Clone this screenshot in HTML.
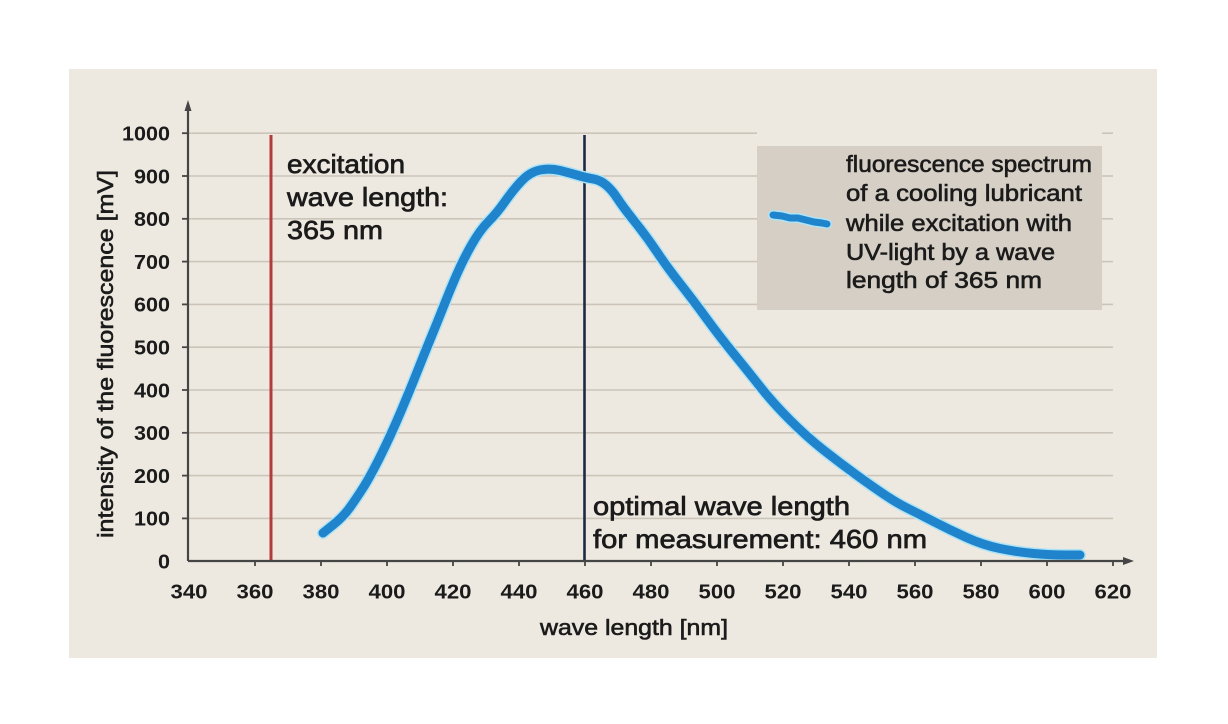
<!DOCTYPE html>
<html>
<head>
<meta charset="utf-8">
<style>
  html, body { margin:0; padding:0; background:#ffffff; }
  body { width:1228px; height:724px; overflow:hidden; }
  svg { display:block; }
  text { font-family: "Liberation Sans", "DejaVu Sans", sans-serif; fill:#1b1b1b; }
</style>
</head>
<body>
<svg width="1228" height="724" viewBox="0 0 1228 724" xmlns="http://www.w3.org/2000/svg">
  <!-- panel -->
  <rect x="69" y="69" width="1088" height="589" fill="#eee9e0"/>

  <!-- legend box -->
  <rect x="757" y="146" width="345" height="164" fill="#d6cfc6"/>

  <!-- gridlines -->
  <g stroke="#cbc4b9" stroke-width="1.6">
    <line x1="188" y1="133.2" x2="757" y2="133.2"/>
    <line x1="1102" y1="133.2" x2="1113" y2="133.2"/>
    <line x1="188" y1="176" x2="757" y2="176"/>
    <line x1="1102" y1="176" x2="1113" y2="176"/>
    <line x1="188" y1="218.8" x2="757" y2="218.8"/>
    <line x1="1102" y1="218.8" x2="1113" y2="218.8"/>
    <line x1="188" y1="261.6" x2="757" y2="261.6"/>
    <line x1="1102" y1="261.6" x2="1113" y2="261.6"/>
    <line x1="188" y1="304.4" x2="757" y2="304.4"/>
    <line x1="1102" y1="304.4" x2="1113" y2="304.4"/>
    <line x1="188" y1="347.2" x2="1113" y2="347.2"/>
    <line x1="188" y1="390" x2="1113" y2="390"/>
    <line x1="188" y1="432.8" x2="1113" y2="432.8"/>
    <line x1="188" y1="475.6" x2="1113" y2="475.6"/>
    <line x1="188" y1="518.4" x2="1113" y2="518.4"/>
  </g>

  <!-- vertical marker lines -->
  <line x1="271" y1="135" x2="271" y2="561" stroke="#b23b3b" stroke-width="3"/>
  <line x1="584.5" y1="135" x2="584.5" y2="561" stroke="#1d2a45" stroke-width="2.6"/>

  <!-- curve halo + curve -->
  <path id="c" fill="none" stroke="#aee3f6" stroke-width="12" stroke-linejoin="round" stroke-linecap="round"
    d="M323,533 L333,525 Q343,517 349.5,508 Q356,499 363,488 Q370,477 380,457 Q390,437 400,413.5 Q410,390 416.5,373.5 Q423,357 430,340 Q437,323 443.5,306.5 Q450,290 456.5,275 Q463,260 471.5,245 Q480,230 488.5,221.5 Q497,213 505,201.5 Q513,190 521.5,181 Q530,172 540,170 Q550,168 560,170.5 Q570,173 578.5,175.5 Q587,178 593.5,179 Q600,180 606,185 Q612,190 617.5,198.5 Q623,207 635,222 Q647,237 657,252 Q667,267 680,283.5 Q693,300 706.5,318.5 Q720,337 733.5,353.5 Q747,370 760,386.5 Q773,403 790,420 Q807,437 823.5,450 Q840,463 856.5,475 Q873,487 885,495 Q897,503 907,508 Q917,513 933.5,521.5 Q950,530 966.5,537.5 Q983,545 1000,548.5 Q1017,552 1033.5,553.5 Q1050,555 1065,555 L1080,555"/>
  <path fill="none" stroke="#1f84cc" stroke-width="9" stroke-linejoin="round" stroke-linecap="round"
    d="M323,533 L333,525 Q343,517 349.5,508 Q356,499 363,488 Q370,477 380,457 Q390,437 400,413.5 Q410,390 416.5,373.5 Q423,357 430,340 Q437,323 443.5,306.5 Q450,290 456.5,275 Q463,260 471.5,245 Q480,230 488.5,221.5 Q497,213 505,201.5 Q513,190 521.5,181 Q530,172 540,170 Q550,168 560,170.5 Q570,173 578.5,175.5 Q587,178 593.5,179 Q600,180 606,185 Q612,190 617.5,198.5 Q623,207 635,222 Q647,237 657,252 Q667,267 680,283.5 Q693,300 706.5,318.5 Q720,337 733.5,353.5 Q747,370 760,386.5 Q773,403 790,420 Q807,437 823.5,450 Q840,463 856.5,475 Q873,487 885,495 Q897,503 907,508 Q917,513 933.5,521.5 Q950,530 966.5,537.5 Q983,545 1000,548.5 Q1017,552 1033.5,553.5 Q1050,555 1065,555 L1080,555"/>

  <!-- axes -->
  <g stroke="#454545" stroke-width="2.2" fill="none">
    <line x1="188" y1="561" x2="188" y2="108"/>
    <line x1="188" y1="561" x2="1126" y2="561"/>
  </g>
  <polygon points="188,100 184.5,111 191.5,111" fill="#454545"/>
  <polygon points="1134,561 1123,557 1123,565" fill="#454545"/>

  <!-- y ticks -->
  <g stroke="#454545" stroke-width="1.8">
    <line x1="182" y1="133.2" x2="188" y2="133.2"/>
    <line x1="182" y1="176" x2="188" y2="176"/>
    <line x1="182" y1="218.8" x2="188" y2="218.8"/>
    <line x1="182" y1="261.6" x2="188" y2="261.6"/>
    <line x1="182" y1="304.4" x2="188" y2="304.4"/>
    <line x1="182" y1="347.2" x2="188" y2="347.2"/>
    <line x1="182" y1="390" x2="188" y2="390"/>
    <line x1="182" y1="432.8" x2="188" y2="432.8"/>
    <line x1="182" y1="475.6" x2="188" y2="475.6"/>
    <line x1="182" y1="518.4" x2="188" y2="518.4"/>
  </g>
  <!-- x ticks -->
  <g stroke="#454545" stroke-width="1.8">
    <line x1="255" y1="561" x2="255" y2="566"/>
    <line x1="321" y1="561" x2="321" y2="566"/>
    <line x1="387" y1="561" x2="387" y2="566"/>
    <line x1="453" y1="561" x2="453" y2="566"/>
    <line x1="519" y1="561" x2="519" y2="566"/>
    <line x1="585" y1="561" x2="585" y2="566"/>
    <line x1="651" y1="561" x2="651" y2="566"/>
    <line x1="717" y1="561" x2="717" y2="566"/>
    <line x1="783" y1="561" x2="783" y2="566"/>
    <line x1="849" y1="561" x2="849" y2="566"/>
    <line x1="915" y1="561" x2="915" y2="566"/>
    <line x1="981" y1="561" x2="981" y2="566"/>
    <line x1="1047" y1="561" x2="1047" y2="566"/>
    <line x1="1113" y1="561" x2="1113" y2="566"/>
  </g>

  <!-- y tick labels -->
  <g font-size="20" font-weight="bold" text-anchor="end">
    <text x="170" y="140.5" textLength="48" lengthAdjust="spacingAndGlyphs">1000</text>
    <text x="170" y="183.3" textLength="36" lengthAdjust="spacingAndGlyphs">900</text>
    <text x="170" y="226.1" textLength="36" lengthAdjust="spacingAndGlyphs">800</text>
    <text x="170" y="268.9" textLength="36" lengthAdjust="spacingAndGlyphs">700</text>
    <text x="170" y="311.7" textLength="36" lengthAdjust="spacingAndGlyphs">600</text>
    <text x="170" y="354.5" textLength="36" lengthAdjust="spacingAndGlyphs">500</text>
    <text x="170" y="397.3" textLength="36" lengthAdjust="spacingAndGlyphs">400</text>
    <text x="170" y="440.1" textLength="36" lengthAdjust="spacingAndGlyphs">300</text>
    <text x="170" y="482.9" textLength="36" lengthAdjust="spacingAndGlyphs">200</text>
    <text x="170" y="525.7" textLength="36" lengthAdjust="spacingAndGlyphs">100</text>
    <text x="170" y="568.5" textLength="12" lengthAdjust="spacingAndGlyphs">0</text>
  </g>

  <!-- x tick labels -->
  <g font-size="20" font-weight="bold" text-anchor="middle">
    <text x="189" y="598.5" textLength="37" lengthAdjust="spacingAndGlyphs">340</text>
    <text x="255" y="598.5" textLength="37" lengthAdjust="spacingAndGlyphs">360</text>
    <text x="321" y="598.5" textLength="37" lengthAdjust="spacingAndGlyphs">380</text>
    <text x="387" y="598.5" textLength="37" lengthAdjust="spacingAndGlyphs">400</text>
    <text x="453" y="598.5" textLength="37" lengthAdjust="spacingAndGlyphs">420</text>
    <text x="519" y="598.5" textLength="37" lengthAdjust="spacingAndGlyphs">440</text>
    <text x="585" y="598.5" textLength="37" lengthAdjust="spacingAndGlyphs">460</text>
    <text x="651" y="598.5" textLength="37" lengthAdjust="spacingAndGlyphs">480</text>
    <text x="717" y="598.5" textLength="37" lengthAdjust="spacingAndGlyphs">500</text>
    <text x="783" y="598.5" textLength="37" lengthAdjust="spacingAndGlyphs">520</text>
    <text x="849" y="598.5" textLength="37" lengthAdjust="spacingAndGlyphs">540</text>
    <text x="915" y="598.5" textLength="37" lengthAdjust="spacingAndGlyphs">560</text>
    <text x="981" y="598.5" textLength="37" lengthAdjust="spacingAndGlyphs">580</text>
    <text x="1047" y="598.5" textLength="37" lengthAdjust="spacingAndGlyphs">600</text>
    <text x="1113" y="598.5" textLength="37" lengthAdjust="spacingAndGlyphs">620</text>
  </g>

  <!-- axis titles -->
  <text x="540" y="635" font-size="22" textLength="188" lengthAdjust="spacingAndGlyphs" stroke="#1b1b1b" stroke-width="0.6">wave length [nm]</text>
  <text transform="translate(113,538) rotate(-90)" x="0" y="0" font-size="22" textLength="368" lengthAdjust="spacingAndGlyphs" stroke="#1b1b1b" stroke-width="0.6">intensity of the fluorescence [mV]</text>

  <!-- excitation annotation -->
  <g font-size="26" stroke="#1b1b1b" stroke-width="0.7">
    <text x="287" y="173" textLength="118" lengthAdjust="spacingAndGlyphs">excitation</text>
    <text x="287" y="206" textLength="161" lengthAdjust="spacingAndGlyphs">wave length:</text>
    <text x="287" y="239" textLength="96" lengthAdjust="spacingAndGlyphs">365 nm</text>
  </g>

  <!-- optimal annotation -->
  <g font-size="26" stroke="#1b1b1b" stroke-width="0.7">
    <text x="593" y="515" textLength="257" lengthAdjust="spacingAndGlyphs">optimal wave length</text>
    <text x="593" y="548" textLength="334" lengthAdjust="spacingAndGlyphs">for measurement: 460 nm</text>
  </g>

  <!-- legend -->
  <path d="M773,215 L782,216 L790,218 L798,218 L806,220 L814,222 L822,223 L827,224" fill="none" stroke="#aee3f6" stroke-width="10" stroke-linecap="round" stroke-linejoin="round"/>
  <path d="M773,215 L782,216 L790,218 L798,218 L806,220 L814,222 L822,223 L827,224" fill="none" stroke="#1f84cc" stroke-width="7" stroke-linecap="round" stroke-linejoin="round"/>
  <g font-size="23" stroke="#1b1b1b" stroke-width="0.6">
    <text x="846" y="172" textLength="246" lengthAdjust="spacingAndGlyphs">fluorescence spectrum</text>
    <text x="846" y="201" textLength="236" lengthAdjust="spacingAndGlyphs">of a cooling lubricant</text>
    <text x="846" y="231" textLength="226" lengthAdjust="spacingAndGlyphs">while excitation with</text>
    <text x="846" y="260" textLength="209" lengthAdjust="spacingAndGlyphs">UV-light by a wave</text>
    <text x="846" y="288" textLength="196" lengthAdjust="spacingAndGlyphs">length of 365 nm</text>
  </g>
</svg>
</body>
</html>
